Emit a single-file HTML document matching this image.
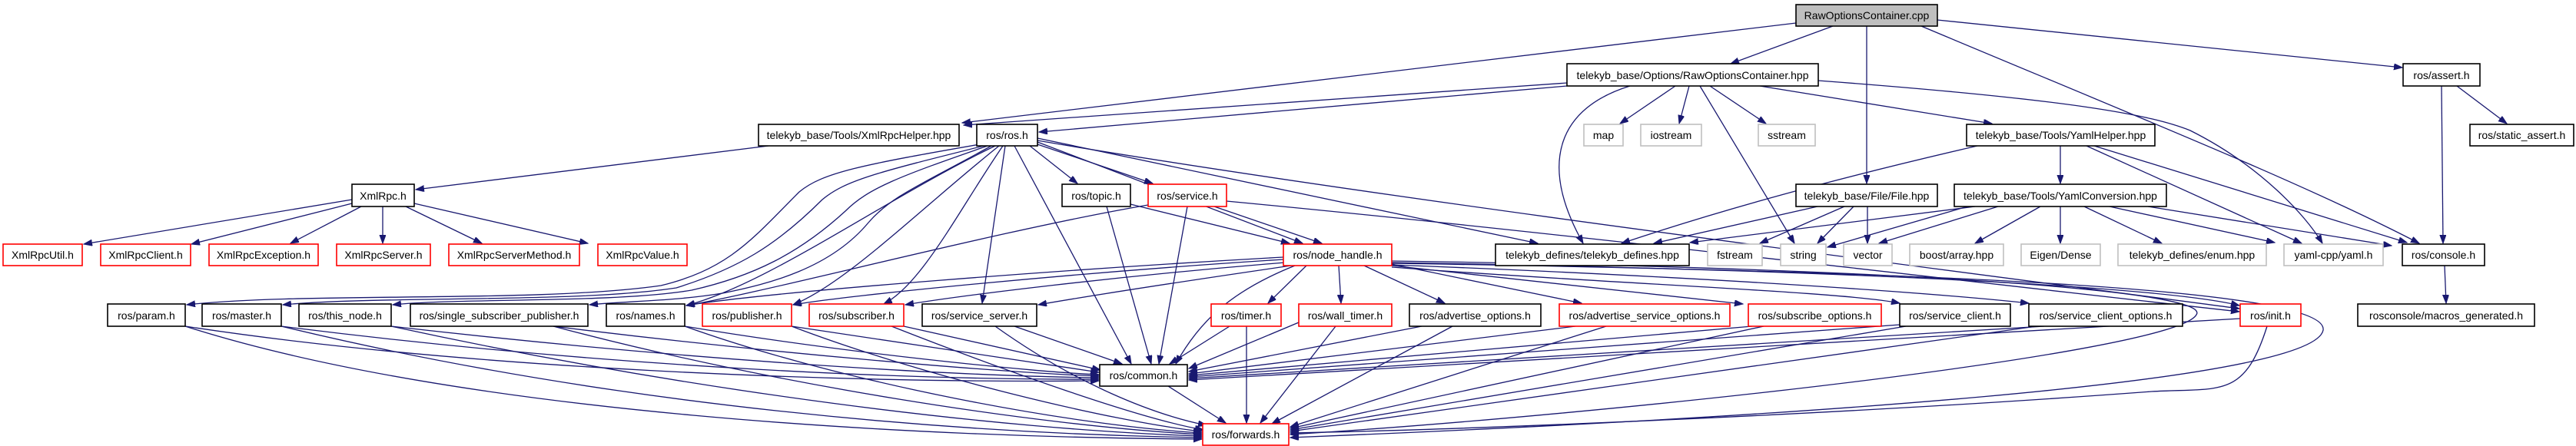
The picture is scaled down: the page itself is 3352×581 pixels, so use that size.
<!DOCTYPE html>
<html><head><meta charset="utf-8">
<style>
html,body{margin:0;padding:0;background:#fff;}
svg{display:block}
text{font-family:"Liberation Sans",sans-serif;font-size:14px;text-anchor:middle;fill:#000}
.e{fill:none;stroke:#191970;stroke-width:1.3;marker-end:url(#a)}
.b{fill:#fff;stroke:#000;stroke-width:1.6}
.r{fill:#fff;stroke:#ff0000;stroke-width:1.6}
.g{fill:#fff;stroke:#bfbfbf;stroke-width:1.6}
</style></head>
<body>
<svg width="3352" height="581" viewBox="0 0 3352 581" xmlns="http://www.w3.org/2000/svg">
<defs><marker id="a" markerUnits="userSpaceOnUse" markerWidth="12" markerHeight="9" refX="11" refY="4" orient="auto"><path d="M0,0 L11,4 L0,8 z" fill="#191970" stroke="#191970"/></marker></defs>
<g>
<!-- cpp -->
<path class="e" d="M2337,30 L1252,160"/>
<path class="e" d="M2385,34 L2252,83"/>
<path class="e" d="M2429,34 L2429,239"/>
<path class="e" d="M2521,26 L3126,88"/>
<path class="e" d="M2500,34 C2800,160 3000,240 3148,317"/>
<!-- RawHpp -->
<path class="e" d="M2039,108 L1254,163"/>
<path class="e" d="M2039,112 L1352,172"/>
<path class="e" d="M2180,112 L2108,161"/>
<path class="e" d="M2198,112 L2185,161"/>
<path class="e" d="M2225,112 L2298,161"/>
<path class="e" d="M2212,112 L2335,317"/>
<path class="e" d="M2121,112 C2030,140 2000,210 2060,317"/>
<path class="e" d="M2290,112 L2592,161"/>
<path class="e" d="M2366,105 C2700,130 2800,150 2850,170 C2940,215 3000,280 3022,317"/>
<!-- XmlRpcHelper -->
<path class="e" d="M1000,190 L541,247"/>
<path class="e" d="M1350,180 L2001,317"/>
<!-- ros.h -->
<path class="e" d="M1275,188 C1120,215 1070,225 1040,250 C980,310 950,350 860,372 C700,395 400,380 243,397"/>
<path class="e" d="M1280,190 C1140,225 1100,235 1070,260 C1010,320 960,350 880,375 C750,395 500,385 368,397"/>
<path class="e" d="M1285,190 C1170,230 1130,245 1100,275 C1040,330 980,360 900,378 C800,395 600,388 511,397"/>
<path class="e" d="M1290,190 C1200,240 1160,255 1130,290 C1080,350 1000,370 940,382 C880,392 820,392 767,397"/>
<path class="e" d="M1295,190 C1150,260 1000,370 893,398"/>
<path class="e" d="M1300,190 C1200,270 1100,370 1032,397"/>
<path class="e" d="M1305,190 C1250,270 1200,370 1150,396"/>
<path class="e" d="M1308,190 L1278,395"/>
<path class="e" d="M1320,190 L1472,474"/>
<path class="e" d="M1340,190 L1402,239"/>
<path class="e" d="M1350,188 L1500,239"/>
<path class="e" d="M1350,185 L1695,317"/>
<path class="e" d="M1350,183 C1800,260 2600,360 2914,402"/>
<!-- topic/service -->
<path class="e" d="M1440,269 L1498,474"/>
<path class="e" d="M1471,266 L1678,317"/>
<path class="e" d="M1545,269 L1508,474"/>
<path class="e" d="M1580,269 L1720,317"/>
<path class="e" d="M1494,267 C1300,300 1000,380 893,398"/>
<path class="e" d="M1596,262 C2000,300 2500,360 2914,406"/>
<!-- node_handle -->
<path class="e" d="M1670,335 C1400,350 1000,380 893,398"/>
<path class="e" d="M1670,338 C1400,355 1100,385 1032,397"/>
<path class="e" d="M1672,342 C1450,360 1250,385 1178,397"/>
<path class="e" d="M1680,346 C1550,365 1420,385 1351,397"/>
<path class="e" d="M1700,346 L1650,395"/>
<path class="e" d="M1742,346 L1745,395"/>
<path class="e" d="M1775,346 L1880,395"/>
<path class="e" d="M1811,344 L2058,395"/>
<path class="e" d="M1811,346 L2268,396"/>
<path class="e" d="M1811,348 C2100,370 2400,380 2472,395"/>
<path class="e" d="M1811,345 C2200,360 2500,380 2640,395"/>
<path class="e" d="M1811,342 C2300,350 2800,370 2914,398"/>
<path class="e" d="M1685,346 C1600,380 1560,420 1530,474"/>
<path class="e" d="M1811,340 C2500,350 2880,380 2858,410 C2830,460 2100,540 1679,566"/>
<path class="e" d="M1811,343 C2600,355 3030,380 3023,430 C3010,500 2300,545 1679,570"/>
<!-- row6 -> common -->
<path class="e" d="M241,425 C600,480 1100,500 1430,496"/>
<path class="e" d="M366,425 C800,480 1200,495 1430,494"/>
<path class="e" d="M509,425 C900,470 1250,490 1430,492"/>
<path class="e" d="M720,425 C1000,460 1300,485 1430,490"/>
<path class="e" d="M891,425 C1100,460 1350,485 1430,488"/>
<path class="e" d="M1030,425 L1430,485"/>
<path class="e" d="M1176,425 L1432,482"/>
<path class="e" d="M1320,425 L1460,474"/>
<path class="e" d="M1600,425 L1522,474"/>
<path class="e" d="M1690,420 L1547,480"/>
<path class="e" d="M1850,425 L1547,484"/>
<path class="e" d="M2050,425 L1547,487"/>
<path class="e" d="M2280,425 L1547,489"/>
<path class="e" d="M2472,423 L1547,491"/>
<path class="e" d="M2660,425 L1547,493"/>
<path class="e" d="M2915,415 L1547,495"/>
<!-- row6 -> forwards -->
<path class="e" d="M241,425 C600,540 1200,570 1564,572"/>
<path class="e" d="M366,425 C800,530 1250,565 1564,570"/>
<path class="e" d="M509,425 C900,510 1300,560 1564,568"/>
<path class="e" d="M720,425 C1000,500 1350,555 1564,566"/>
<path class="e" d="M891,425 C1100,500 1400,555 1564,564"/>
<path class="e" d="M1030,425 C1200,490 1450,550 1564,562"/>
<path class="e" d="M1160,425 C1300,480 1480,545 1566,560"/>
<path class="e" d="M1295,425 C1400,500 1500,540 1570,554"/>
<path class="e" d="M1520,503 L1595,551"/>
<path class="e" d="M1622,425 L1622,551"/>
<path class="e" d="M1738,425 L1640,551"/>
<path class="e" d="M1890,425 L1655,552"/>
<path class="e" d="M2090,425 L1679,556"/>
<path class="e" d="M2295,425 L1679,558"/>
<path class="e" d="M2480,425 L1679,560"/>
<path class="e" d="M2650,425 L1679,562"/>
<path class="e" d="M2950,425 C2920,520 2890,505 2800,510 C2400,540 1900,560 1679,564"/>
<!-- XmlRpc.h -->
<path class="e" d="M458,260 L109,318"/>
<path class="e" d="M458,265 L249,318"/>
<path class="e" d="M470,269 L378,317"/>
<path class="e" d="M498,269 L498,317"/>
<path class="e" d="M528,269 L627,317"/>
<path class="e" d="M539,265 L765,317"/>
<!-- File -->
<path class="e" d="M2365,269 L2152,317"/>
<path class="e" d="M2400,269 L2290,317"/>
<path class="e" d="M2412,269 L2365,317"/>
<path class="e" d="M2430,269 L2430,317"/>
<!-- YamlHelper -->
<path class="e" d="M2681,190 L2681,239"/>
<path class="e" d="M2573,190 C2400,230 2250,270 2110,317"/>
<path class="e" d="M2715,190 L2995,317"/>
<path class="e" d="M2725,190 L3132,316"/>
<!-- YamlConv -->
<path class="e" d="M2570,269 L2199,316"/>
<path class="e" d="M2560,269 L2378,322"/>
<path class="e" d="M2600,269 L2445,317"/>
<path class="e" d="M2655,269 L2570,317"/>
<path class="e" d="M2681,269 L2681,317"/>
<path class="e" d="M2712,269 L2813,317"/>
<path class="e" d="M2745,269 L2960,316"/>
<path class="e" d="M2795,269 L3112,320"/>
<!-- assert / console -->
<path class="e" d="M3177,112 L3179,317"/>
<path class="e" d="M3197,112 L3262,161"/>
<path class="e" d="M3181,346 L3183,395"/>
</g>
<g>
<rect x="2337" y="6" width="184" height="28" fill="#bfbfbf" stroke="#000" stroke-width="1.6"/><text x="2429" y="25">RawOptionsContainer.cpp</text>
<rect class="b" x="2039" y="83" width="327" height="29"/><text x="2202.5" y="103">telekyb_base/Options/RawOptionsContainer.hpp</text>
<rect class="b" x="3127" y="83" width="100" height="29"/><text x="3177" y="103">ros/assert.h</text>
<rect class="b" x="987" y="162" width="261" height="28"/><text x="1117.5" y="181">telekyb_base/Tools/XmlRpcHelper.hpp</text>
<rect class="b" x="1271" y="162" width="79" height="28"/><text x="1310.5" y="181">ros/ros.h</text>
<rect class="g" x="2061" y="162" width="51" height="28"/><text x="2086.5" y="181">map</text>
<rect class="g" x="2135" y="162" width="79" height="28"/><text x="2174.5" y="181">iostream</text>
<rect class="g" x="2288" y="162" width="74" height="28"/><text x="2325" y="181">sstream</text>
<rect class="b" x="2559" y="162" width="245" height="28"/><text x="2681.5" y="181">telekyb_base/Tools/YamlHelper.hpp</text>
<rect class="b" x="3214" y="162" width="135" height="28"/><text x="3281.5" y="181">ros/static_assert.h</text>
<rect class="b" x="458" y="240" width="81" height="29"/><text x="498.5" y="260">XmlRpc.h</text>
<rect class="b" x="1382" y="240" width="89" height="29"/><text x="1426.5" y="260">ros/topic.h</text>
<rect class="r" x="1494" y="240" width="102" height="29"/><text x="1545" y="260">ros/service.h</text>
<rect class="b" x="2337" y="240" width="184" height="29"/><text x="2429" y="260">telekyb_base/File/File.hpp</text>
<rect class="b" x="2543" y="240" width="276" height="29"/><text x="2681" y="260">telekyb_base/Tools/YamlConversion.hpp</text>
<rect class="r" x="4" y="318" width="103" height="28"/><text x="55.5" y="337">XmlRpcUtil.h</text>
<rect class="r" x="131" y="318" width="117" height="28"/><text x="189.5" y="337">XmlRpcClient.h</text>
<rect class="r" x="272" y="318" width="142" height="28"/><text x="343" y="337">XmlRpcException.h</text>
<rect class="r" x="438" y="318" width="122" height="28"/><text x="499" y="337">XmlRpcServer.h</text>
<rect class="r" x="584" y="318" width="170" height="28"/><text x="669" y="337">XmlRpcServerMethod.h</text>
<rect class="r" x="778" y="318" width="116" height="28"/><text x="836" y="337">XmlRpcValue.h</text>
<rect class="r" x="1670" y="318" width="141" height="28"/><text x="1740.5" y="337">ros/node_handle.h</text>
<rect class="b" x="1946" y="318" width="252" height="28"/><text x="2072" y="337">telekyb_defines/telekyb_defines.hpp</text>
<rect class="g" x="2222" y="318" width="71" height="28"/><text x="2257.5" y="337">fstream</text>
<rect class="g" x="2317" y="318" width="59" height="28"/><text x="2346.5" y="337">string</text>
<rect class="g" x="2399" y="318" width="63" height="28"/><text x="2430.5" y="337">vector</text>
<rect class="g" x="2485" y="318" width="122" height="28"/><text x="2546" y="337">boost/array.hpp</text>
<rect class="g" x="2630" y="318" width="103" height="28"/><text x="2681.5" y="337">Eigen/Dense</text>
<rect class="g" x="2756" y="318" width="193" height="28"/><text x="2852.5" y="337">telekyb_defines/enum.hpp</text>
<rect class="g" x="2972" y="318" width="129" height="28"/><text x="3036.5" y="337">yaml-cpp/yaml.h</text>
<rect class="b" x="3126" y="318" width="107" height="28"/><text x="3179.5" y="337">ros/console.h</text>
<rect class="b" x="140" y="396" width="101" height="29"/><text x="190.5" y="416">ros/param.h</text>
<rect class="b" x="263" y="396" width="103" height="29"/><text x="314.5" y="416">ros/master.h</text>
<rect class="b" x="389" y="396" width="120" height="29"/><text x="449" y="416">ros/this_node.h</text>
<rect class="b" x="534" y="396" width="231" height="29"/><text x="649.5" y="416">ros/single_subscriber_publisher.h</text>
<rect class="b" x="789" y="396" width="102" height="29"/><text x="840" y="416">ros/names.h</text>
<rect class="r" x="914" y="396" width="116" height="29"/><text x="972" y="416">ros/publisher.h</text>
<rect class="r" x="1053" y="396" width="123" height="29"/><text x="1114.5" y="416">ros/subscriber.h</text>
<rect class="b" x="1200" y="396" width="149" height="29"/><text x="1274.5" y="416">ros/service_server.h</text>
<rect class="r" x="1576" y="396" width="91" height="29"/><text x="1621.5" y="416">ros/timer.h</text>
<rect class="r" x="1690" y="396" width="121" height="29"/><text x="1750.5" y="416">ros/wall_timer.h</text>
<rect class="b" x="1834" y="396" width="171" height="29"/><text x="1919.5" y="416">ros/advertise_options.h</text>
<rect class="r" x="2029" y="396" width="222" height="29"/><text x="2140" y="416">ros/advertise_service_options.h</text>
<rect class="r" x="2275" y="396" width="173" height="29"/><text x="2361.5" y="416">ros/subscribe_options.h</text>
<rect class="b" x="2472" y="396" width="144" height="29"/><text x="2544" y="416">ros/service_client.h</text>
<rect class="b" x="2640" y="396" width="200" height="29"/><text x="2740" y="416">ros/service_client_options.h</text>
<rect class="r" x="2915" y="396" width="79" height="29"/><text x="2954.5" y="416">ros/init.h</text>
<rect class="b" x="3068" y="396" width="230" height="29"/><text x="3183" y="416">rosconsole/macros_generated.h</text>
<rect class="b" x="1431" y="475" width="114" height="28"/><text x="1488" y="494">ros/common.h</text>
<rect class="r" x="1565" y="552" width="112" height="28"/><text x="1621" y="571">ros/forwards.h</text>
</g>
</svg>
</body></html>
